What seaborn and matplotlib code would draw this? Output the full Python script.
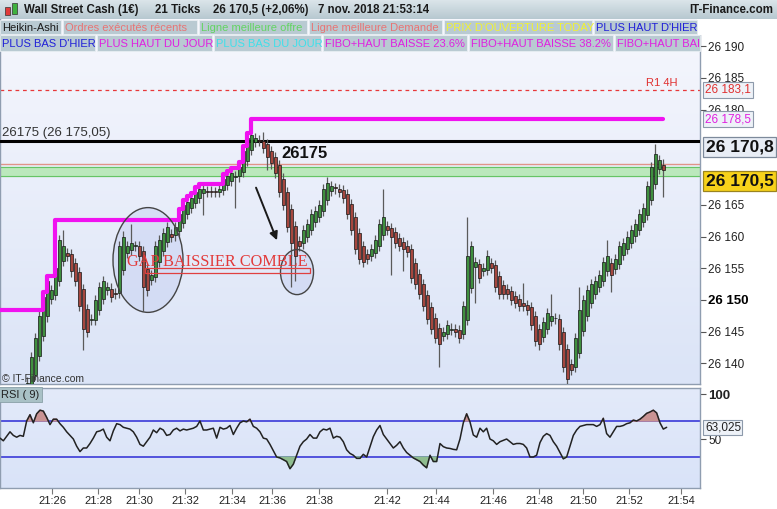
# =========================================
# WALL STREET CASH - HEIKIN ASHI + RSI(9)
# =========================================

import numpy as np
import pandas as pd
import matplotlib
matplotlib.use("Agg")
import matplotlib.pyplot as plt
import matplotlib.transforms as mtransforms
from matplotlib.patches import Rectangle, Ellipse, FancyArrowPatch
import seaborn as sns


# =========================================
# DATA
# =========================================

closes = [
    26137, 26141, 26144, 26147.5, 26150.5, 26153, 26151.5, 26155, 26159.5, 26158.5,
    26157, 26154.5, 26153, 26149, 26145.5, 26145, 26147, 26150, 26152, 26153,
    26152, 26150.5, 26151, 26158.5, 26160, 26158.5, 26159, 26158.5, 26157, 26152,
    26151.5, 26154, 26158.5, 26159.5, 26160.5, 26161.5, 26160, 26161.5, 26163.5, 26165,
    26165.5, 26166, 26167, 26167.5, 26167.5, 26167, 26167, 26167, 26167.5, 26169,
    26169.5, 26170, 26169.5, 26171, 26173.5, 26175.5, 26176, 26175.5, 26175, 26174,
    26172.5, 26171.5, 26170, 26167, 26165, 26161.5, 26159, 26157, 26158.5, 26161,
    26162, 26163.5, 26164, 26165, 26167.5, 26168.5, 26168, 26167.5, 26167, 26166,
    26163.5, 26161, 26158, 26156.5, 26156, 26156.5, 26158, 26159.5, 26162, 26163,
    26161, 26160, 26159, 26158.5, 26158, 26157.5, 26153.5, 26152.5, 26151, 26149,
    26147, 26145.5, 26144, 26143, 26145, 26146, 26145.5, 26145, 26144, 26149,
    26157, 26158.5, 26156, 26153.5, 26155, 26157, 26155, 26152, 26151, 26151,
    26151, 26150, 26149.5, 26149, 26149, 26148.5, 26146, 26143.5, 26143, 26146.5,
    26148, 26147.5, 26147, 26143, 26139.5, 26137.5, 26139, 26144, 26148.5, 26150,
    26151.5, 26152.5, 26153, 26154, 26156, 26157, 26154, 26156.5, 26158.5, 26159,
    26160, 26161, 26162, 26163.5, 26164.5, 26168, 26171, 26173, 26172, 26170.5,
]
first_open = 26134.0
base_wick = 0.8

spike_high_idx = [7, 9, 26, 56, 59, 89, 110, 124, 131, 138, 145, 157]
spike_high_val = [26162.6, 26161, 26162, 26178.5, 26176.5, 26167.5, 26163,
                  26152.7, 26151, 26152, 26159.5, 26174.5]
spike_low_idx = [14, 29, 44, 52, 60, 66, 67, 91, 94, 103, 112, 135, 146, 159]
spike_low_val = [26142.2, 26148.2, 26163.4, 26164.5, 26170.4, 26152, 26153,
                 26154, 26154.5, 26139.5, 26149.5, 26136.7, 26151.3, 26166.2]

prior_day_high = 26148.5

rsi_values = [
    51, 48, 53, 58, 54, 52, 54, 53, 70, 77, 68, 78, 82, 81, 74, 66, 72, 72, 67, 63,
    58, 54, 50, 42, 36, 40, 40, 45, 51, 58, 59, 61, 52, 48, 59, 67, 66, 63, 62, 61,
    58, 52, 44, 42, 47, 52, 60, 57, 62, 60, 54, 55, 60, 62, 59, 61, 60, 61, 62, 64,
    70, 60, 60, 61, 62, 51, 63, 61, 62, 65, 55, 62, 68, 70, 69, 72, 64, 62, 58, 51,
    50, 44, 37, 30, 29, 27, 25, 17, 22, 32, 42, 47, 50, 55, 51, 51, 58, 61, 60, 62,
    51, 53, 52, 47, 38, 34, 32, 28.5,
    28.5, 33, 30, 41.5, 52.6, 60, 65, 55, 50, 45, 40, 43, 47, 40, 35, 32, 29, 27, 25, 21,
    18, 32, 25, 25, 45, 41.5, 40, 39.5, 38.5, 38, 50, 68, 78, 69, 54.5, 52, 62, 58, 62, 50,
    48, 44, 47, 48.5, 50, 47, 44, 45, 45, 44, 40, 30, 30, 32, 46, 53, 56, 54, 47, 42,
    35, 28, 30, 42, 54, 60, 64, 65, 66, 66, 66, 64, 66, 73, 56, 52, 58, 64, 64, 65,
    67, 68, 71, 70, 72, 75, 78.5, 80, 82, 79, 68, 61, 63,
]
rsi_upper = 70
rsi_lower = 30
rsi_last = 63.025

r1_4h = 26183.1
pivot_level = 26175.05
recent_orders = 26171.4
best_offer_low = 26169.5
best_offer_high = 26171.0

tick_labels = ["21:26", "21:28", "21:30", "21:32", "21:34", "21:36", "21:38",
               "21:42", "21:44", "21:46", "21:48", "21:50", "21:52", "21:54"]
tick_bars = [6.25, 17.75, 28, 39.5, 51.25, 61.25, 73, 90, 102.25, 116.5,
             128, 139, 150.5, 163.5]
price_ticks = [26140, 26145, 26150, 26155, 26160, 26165, 26180, 26185, 26190]


# =========================================
# HEIKIN-ASHI TABLE
# =========================================

opens = [first_open]
for i in range(1, len(closes)):
    opens.append((opens[-1] + closes[i - 1]) / 2)

df = pd.DataFrame({"bar": np.arange(len(closes)), "open": opens, "close": closes})
df["high"] = df[["open", "close"]].max(axis=1) + base_wick
df["low"] = df[["open", "close"]].min(axis=1) - base_wick
for i, v in zip(spike_high_idx, spike_high_val):
    df.loc[i, "high"] = max(df.loc[i, "high"], v)
for i, v in zip(spike_low_idx, spike_low_val):
    df.loc[i, "low"] = min(df.loc[i, "low"], v)
df["up"] = df["close"] >= df["open"]

day_high = np.maximum.accumulate(np.r_[prior_day_high, df["high"].values])

# layout constants
X_LEFT, X_RIGHT = -6.75, 168.25
Y_TOP, Y_BOT = 26194.57, 26136.77
RSI_START, RSI_STEP = -6.75, 0.8333

rsi_x = RSI_START + RSI_STEP * np.arange(len(rsi_values))
rsi_arr = np.array(rsi_values, dtype=float)


# =========================================
# FIGURE
# =========================================

sns.set_theme(style="white")
plt.rcParams["font.family"] = ["Liberation Sans", "DejaVu Sans"]

W, H = 777, 509
fig = plt.figure(figsize=(W / 100, H / 100), dpi=100)
fig.patch.set_facecolor("white")


def px_axes(x0, y0, x1, y1):
    return [x0 / W, 1 - y1 / H, (x1 - x0) / W, (y1 - y0) / H]


ax = fig.add_axes(px_axes(0, 17, 700, 384))
ax_rsi = fig.add_axes(px_axes(0, 388, 700, 488), sharex=ax)

# panel backgrounds
grad = np.linspace(0, 1, 256).reshape(-1, 1)
bg_main = matplotlib.colors.LinearSegmentedColormap.from_list(
    "bgm", ["#f6f7fd", "#dbe4f7"])
bg_rsi = matplotlib.colors.LinearSegmentedColormap.from_list(
    "bgr", ["#e3eafa", "#d9e3f8"])
ax.imshow(grad, cmap=bg_main, aspect="auto", zorder=0,
          extent=[X_LEFT, X_RIGHT, Y_BOT, Y_TOP], origin="upper")
ax_rsi.imshow(grad, cmap=bg_rsi, aspect="auto", zorder=0,
              extent=[X_LEFT, X_RIGHT, -4.44, 106.67], origin="upper")

# =========================================
# PRICE PANEL
# =========================================

# levels
ax.axhline(r1_4h, color="#e8383a", lw=0.9, ls=(0, (3, 3)), zorder=2)
ax.axhspan(best_offer_low, best_offer_high, color="#b6e8b6", alpha=0.9, zorder=1)
ax.axhline(best_offer_low, color="#66c466", lw=0.8, zorder=2)
ax.axhline(best_offer_high, color="#66c466", lw=0.8, zorder=2)
ax.axhline(recent_orders, color="#e09488", lw=1.0, zorder=2)
ax.axhline(pivot_level, color="black", lw=2.2, zorder=3)

# candles
ax.vlines(df["bar"], df["low"], df["high"], color="#5a5a5a", lw=0.9, zorder=3)
body = (df["close"] - df["open"]).where(lambda s: s.abs() > 0.15, 0.15)
colors = np.where(df["up"], "#3f8f3f", "#a5473f")
ax.bar(df["bar"], body, bottom=df["open"], width=0.75, color=colors,
       edgecolor="#151515", linewidth=0.5, zorder=4)

# highest of the day (steps)
hx = np.r_[X_LEFT, df["bar"].values]
sns.lineplot(x=hx, y=day_high, ax=ax, color="#f012f0", lw=3.0,
             drawstyle="steps-post", zorder=5, estimator=None, sort=False)

# annotations
ax.add_patch(Ellipse((30.25, 26156.3), 17.5, 16.5, fc="#c9d3f2", alpha=0.55,
                     ec="none", zorder=2))
ax.add_patch(Ellipse((30.25, 26156.3), 17.5, 16.5, fc="none", ec="#444444",
                     lw=1.0, zorder=6))
ax.add_patch(Ellipse((67.5, 26154.4), 8.25, 7.1, fc="#c9d3f2", alpha=0.55,
                     ec="none", zorder=2))
ax.add_patch(Ellipse((67.5, 26154.4), 8.25, 7.1, fc="none", ec="#444444",
                     lw=1.0, zorder=6))
ax.add_patch(Rectangle((29.5, 26154.25), 41.25, 0.75, fc="none",
                       ec="#e04040", lw=0.9, zorder=6))
ax.text(25, 26156.0, "GAP BAISSIER COMBLE", family=["Liberation Serif", "DejaVu Serif"],
        fontsize=11.7, color="#e23a3a", va="center", ha="left", zorder=7)
ax.add_patch(FancyArrowPatch((57, 26168.1), (62.75, 26159.0), arrowstyle="-|>",
                             mutation_scale=12, color="#1a1a1a", lw=1.4, zorder=7))

ax.text(-6.25, pivot_level + 0.35, "26175 (26 175,05)", fontsize=9.5,
        color="#333333", va="bottom", ha="left", zorder=7)
ax.text(63.5, 26173.1, "26175", fontsize=12, fontweight="bold", color="#111111",
        va="center", ha="left", zorder=7)
ax.text(162.5, r1_4h + 0.35, "R1 4H", fontsize=8, color="#e03030",
        va="bottom", ha="right", zorder=7)
ax.text(-6.3, 26137.6, "\u00a9 IT-Finance.com", fontsize=7.5, color="#333333",
        va="center", ha="left", zorder=7)

ax.set_xlim(X_LEFT, X_RIGHT)
ax.set_ylim(Y_BOT, Y_TOP)
ax.yaxis.tick_right()
ax.set_yticks(price_ticks)
ax.set_yticklabels([f"{v // 1000} {v % 1000:03d}" for v in price_ticks])
ax.tick_params(axis="y", direction="out", length=4, width=0.8, color="#555555",
               labelsize=8.5, labelcolor="#222222", pad=2, right=True)
for lab, v in zip(ax.get_yticklabels(), price_ticks):
    if v == 26150:
        lab.set_fontweight("bold")
        lab.set_fontsize(9.5)
        lab.set_color("black")
ax.tick_params(axis="x", bottom=False, labelbottom=False)
ax.set_xlabel("")
ax.set_ylabel("")

# right-side value boxes
trans = mtransforms.blended_transform_factory(ax.transAxes, ax.transData)
ax.text(1.007, r1_4h, "26 183,1", transform=trans, fontsize=8.5, color="#e03030",
        va="center", ha="left", clip_on=False, zorder=20,
        bbox=dict(boxstyle="square,pad=0.15", fc="#eef2f8", ec="#8d9aab", lw=0.8))
ax.text(1.007, day_high[-1], "26 178,5", transform=trans, fontsize=8.5,
        color="#e020e0", va="center", ha="left", clip_on=False, zorder=20,
        bbox=dict(boxstyle="square,pad=0.15", fc="#eef2f8", ec="#8d9aab", lw=0.8))
ax.text(1.008, 26174.1, "26 170,8", transform=trans, fontsize=12.5, fontweight="bold",
        color="#111111", va="center", ha="left", clip_on=False, zorder=20,
        bbox=dict(boxstyle="square,pad=0.15", fc="#e8edf5", ec="#7d8a9b", lw=0.9))
ax.text(1.008, 26168.7, "26 170,5", transform=trans, fontsize=12.5, fontweight="bold",
        color="#111111", va="center", ha="left", clip_on=False, zorder=20,
        bbox=dict(boxstyle="square,pad=0.15", fc="#f7d21a", ec="#9a8420", lw=0.9))

for s in ax.spines.values():
    s.set_color("#8f9db0")
    s.set_linewidth(1.0)

# =========================================
# RSI PANEL
# =========================================

ax_rsi.axhline(rsi_upper, color="#3a3ad8", lw=1.2, zorder=2)
ax_rsi.axhline(rsi_lower, color="#3a3ad8", lw=1.2, zorder=2)
ax_rsi.fill_between(rsi_x, rsi_arr, rsi_upper, where=rsi_arr > rsi_upper,
                    interpolate=True, color="#c99393", zorder=3)
ax_rsi.fill_between(rsi_x, rsi_arr, rsi_lower, where=rsi_arr < rsi_lower,
                    interpolate=True, color="#8fbd8f", zorder=3)
sns.lineplot(x=rsi_x, y=rsi_arr, ax=ax_rsi, color="#222222", lw=1.1, zorder=4,
             estimator=None, sort=False)

ax_rsi.set_ylim(-4.44, 106.67)
ax_rsi.set_xlim(X_LEFT, X_RIGHT)
ax_rsi.yaxis.tick_right()
ax_rsi.set_yticks([50, 100])
ax_rsi.set_yticklabels(["50", "100"])
ax_rsi.tick_params(axis="y", direction="out", length=4, width=0.8, color="#555555",
                   labelsize=8.5, labelcolor="#222222", pad=2, right=True)
ax_rsi.get_yticklabels()[1].set_fontweight("bold")
ax_rsi.get_yticklabels()[1].set_fontsize(9.5)
ax_rsi.set_xticks(tick_bars)
ax_rsi.set_xticklabels(tick_labels)
ax_rsi.tick_params(axis="x", direction="out", length=4, width=0.8, color="#777777",
                   labelsize=8, labelcolor="#222222", pad=2, bottom=True)
ax_rsi.set_xlabel("")
ax_rsi.set_ylabel("")

trans_r = mtransforms.blended_transform_factory(ax_rsi.transAxes, ax_rsi.transData)
ax_rsi.text(1.007, rsi_last, "63,025", transform=trans_r, fontsize=8.5,
            color="#222222", va="center", ha="left", clip_on=False, zorder=20,
            bbox=dict(boxstyle="square,pad=0.12", fc="#eef2f8", ec="#8d9aab", lw=0.8))
ax_rsi.text(0.002, 0.985, "RSI ( 9)", transform=ax_rsi.transAxes, fontsize=8,
            color="#222222", va="top", ha="left", zorder=20,
            bbox=dict(boxstyle="square,pad=0.2", fc="#a9c1c6", ec="#8aa0a8", lw=0.6))

for s in ax_rsi.spines.values():
    s.set_color("#8f9db0")
    s.set_linewidth(1.0)

# =========================================
# HEADER (pixel overlay)
# =========================================

ov = fig.add_axes([0, 0, 1, 1], zorder=10)
ov.set_xlim(0, W)
ov.set_ylim(H, 0)
ov.axis("off")
ov.patch.set_alpha(0)

bar_cmap = matplotlib.colors.LinearSegmentedColormap.from_list(
    "bar", ["#dbe5ea", "#b7c8d0"])
ov.imshow(grad, cmap=bar_cmap, aspect="auto", extent=[0, W, 19, 0], origin="upper")
ov.add_patch(Rectangle((697, 19), 80, 16, fc="white", ec="none"))

# small candle icon
ov.add_patch(Rectangle((5, 7), 5, 8, fc="#e03a3a", ec="#333333", lw=0.5))
ov.add_patch(Rectangle((12, 3), 5, 11, fc="#3fb23f", ec="#333333", lw=0.5))

title_parts = [(24, "Wall Street Cash (1\u20ac)"), (155, "21 Ticks"),
               (213, "26 170,5 (+2,06%)"), (318, "7 nov. 2018 21:53:14")]
for x0, t in title_parts:
    ov.text(x0, 10, t, fontsize=8.3, fontweight="bold", color="#1a1a1a",
            va="center", ha="left")
ov.text(773, 10, "IT-Finance.com", fontsize=8.3, fontweight="bold",
        color="#1a1a1a", va="center", ha="right")

row1 = [(0, 61, "Heikin-Ashi", "#1a1a1a"),
        (63, 197, "Ordres exécutés récents", "#e87474"),
        (199, 307, "Ligne meilleure offre", "#62d462"),
        (309, 442, "Ligne meilleure Demande", "#e87474"),
        (444, 592, "PRIX D'OUVERTURE TODAY", "#f2f230"),
        (594, 697, "PLUS HAUT D'HIER", "#2020d8")]
row2 = [(0, 95, "PLUS BAS D'HIER", "#2020d8"),
        (97, 212, "PLUS HAUT DU JOUR", "#e020e0"),
        (214, 321, "PLUS BAS DU JOUR", "#3ee0ea"),
        (323, 467, "FIBO+HAUT BAISSE 23.6%", "#e020e0"),
        (469, 613, "FIBO+HAUT BAISSE 38.2%", "#e020e0"),
        (615, 700, "FIBO+HAUT BAI", "#e020e0")]

for y0, y1, row in [(20, 34, row1), (35, 51, row2)]:
    for x0, x1, label, col in row:
        box = Rectangle((x0, y0), x1 - x0, y1 - y0, fc="#b9cad2",
                        ec="#e8eef2", lw=0.6)
        ov.add_patch(box)
        ov.text(x0 + 2, (y0 + y1) / 2 + 0.5, label, fontsize=8, color=col,
                va="center", ha="left", clip_on=True, clip_path=box)

fig.savefig("out.png", dpi=100, facecolor="white")
